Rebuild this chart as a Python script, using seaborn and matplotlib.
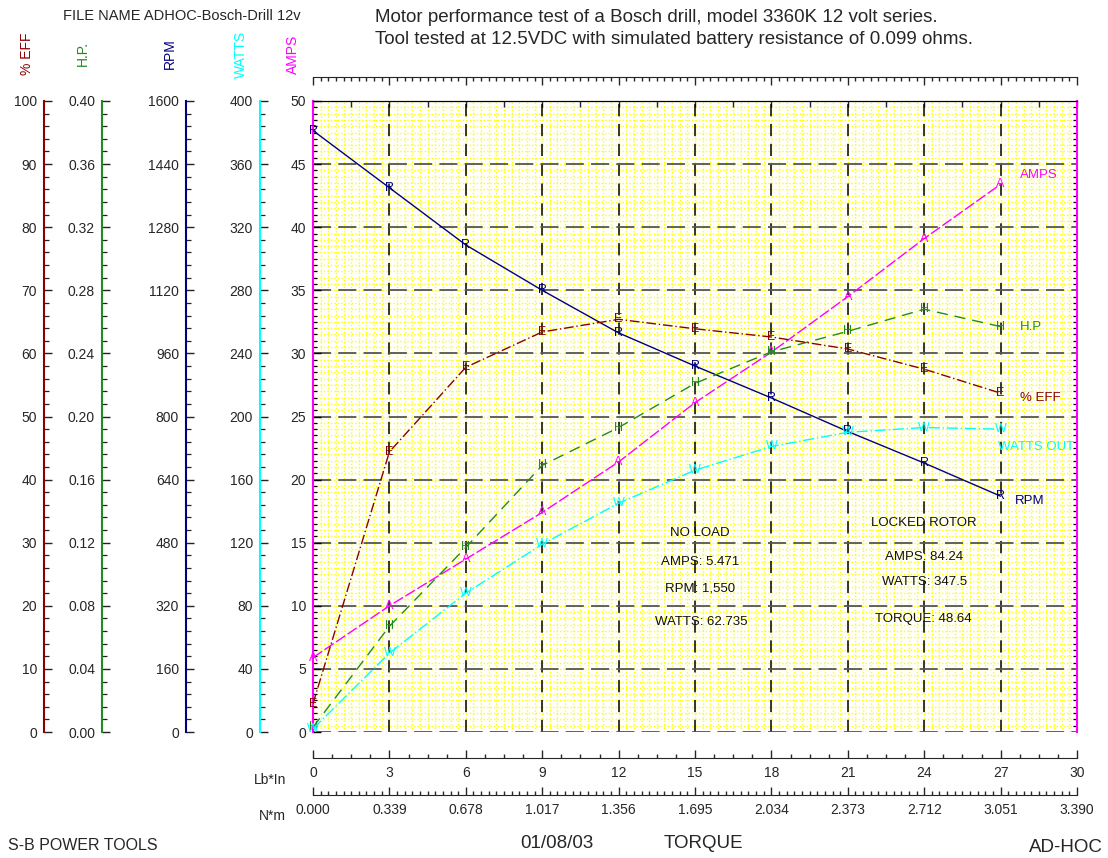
import matplotlib
matplotlib.use("Agg")
import matplotlib.pyplot as plt
import seaborn as sns
from matplotlib.ticker import MultipleLocator, FixedLocator

# torque points (Lb*In) and the readings at each
torque = [0, 3, 6, 9, 12, 15, 18, 21, 24, 27]
rpm = [1525, 1380, 1235, 1120, 1012, 928, 847, 762, 682, 598]
amps = [5.9, 10.0, 13.7, 17.4, 21.4, 26.1, 30.1, 34.5, 39.1, 43.4]
hp = [0.003, 0.067, 0.117, 0.169, 0.193, 0.221, 0.241, 0.254, 0.268, 0.257]
eff = [4.5, 44.4, 57.8, 63.4, 65.4, 63.9, 62.6, 60.7, 57.5, 53.7]
watts = [2, 50, 88, 119, 145, 166, 181, 190, 193, 192]

# scale tick labels
eff_ticks = [0, 10, 20, 30, 40, 50, 60, 70, 80, 90, 100]
hp_ticks = ["0.00", "0.04", "0.08", "0.12", "0.16", "0.20", "0.24", "0.28", "0.32", "0.36", "0.40"]
rpm_ticks = [0, 160, 320, 480, 640, 800, 960, 1120, 1280, 1440, 1600]
watt_ticks = [0, 40, 80, 120, 160, 200, 240, 280, 320, 360, 400]
amp_ticks = [0, 5, 10, 15, 20, 25, 30, 35, 40, 45, 50]
lbin_ticks = [0, 3, 6, 9, 12, 15, 18, 21, 24, 27, 30]
nm_ticks = ["0.000", "0.339", "0.678", "1.017", "1.356", "1.695", "2.034", "2.373", "2.712", "3.051", "3.390"]

C_EFF = "#8B0000"
C_HP = "#228B22"
C_RPM = "#000080"
C_W = "#00FFFF"
C_A = "#FF00FF"

sns.set_style("white")
plt.rcParams["font.family"] = ["Liberation Sans", "DejaVu Sans"]

W, H = 1108, 858
fig = plt.figure(figsize=(W / 100, H / 100), dpi=100)
L, B, PW, PH = 313 / W, 126 / H, 764 / W, 631 / H

# yellow dotted fine grid underneath
bg = fig.add_axes([L, B, PW, PH], zorder=0)
bg.set_xlim(0, 30)
bg.set_ylim(0, 50)
bg.xaxis.set_major_locator(MultipleLocator(0.3))
bg.yaxis.set_major_locator(MultipleLocator(0.5))
bg.grid(True, color="#FFFF00", linestyle=(0, (1, 1.5)), linewidth=1.0)
bg.tick_params(length=0, labelleft=False, labelbottom=False)
for s in bg.spines.values():
    s.set_visible(False)

# main axes (AMPS scale)
ax = fig.add_axes([L, B, PW, PH], zorder=1)
ax.patch.set_visible(False)
ax.set_xlim(0, 30)
ax.set_ylim(0, 50)
ax.xaxis.set_major_locator(MultipleLocator(3))
ax.yaxis.set_major_locator(FixedLocator(amp_ticks))
ax.yaxis.set_minor_locator(MultipleLocator(0.5))
ax.grid(True, axis="x", color="black", linestyle=(0, (8, 5)), linewidth=1.1)
ax.grid(True, axis="y", color="#555555", linestyle=(0, (10, 4)), linewidth=1.3)
ax.tick_params(axis="x", length=0, labelbottom=False)
ax.tick_params(axis="y", which="major", direction="in", length=6, width=1,
               left=True, right=False, labelsize=10, pad=5, color="black")
ax.tick_params(axis="y", which="minor", direction="in", length=3, width=0.9,
               left=True, right=True, color="black")
ax.spines["bottom"].set_visible(False)
ax.spines["top"].set_color("black")
ax.spines["left"].set_color(C_A)
ax.spines["right"].set_color(C_A)
ax.spines["left"].set_linewidth(1.5)
ax.spines["right"].set_linewidth(1.5)
top = ax.secondary_xaxis("top")
top.xaxis.set_major_locator(MultipleLocator(1.5))
top.tick_params(direction="in", length=4, width=1, top=True, labeltop=False)
top.spines["top"].set_color("black")

sns.lineplot(x=torque, y=amps, ax=ax, color=C_A, linewidth=1,
             linestyle=(0, (8, 2)), legend=False)
for xi, yi in zip(torque, amps):
    ax.text(xi, yi, "A", color=C_A, fontsize=9, ha="center", va="center")


def overlay(vals, top_val, color, ls, letter):
    o = fig.add_axes([L, B, PW, PH], zorder=2)
    o.set_xlim(0, 30)
    o.set_ylim(0, top_val)
    o.axis("off")
    sns.lineplot(x=torque, y=vals, ax=o, color=color, linewidth=1,
                 linestyle=ls, legend=False)
    for xi, yi in zip(torque, vals):
        o.text(xi, yi, letter, color=color, fontsize=9, ha="center", va="center")
    return o


overlay(rpm, 1600, C_RPM, "-", "R")
overlay(hp, 0.40, C_HP, (0, (8, 5)), "H")
overlay(eff, 100, C_EFF, (0, (7, 2, 1, 2)), "E")
overlay(watts, 400, C_W, (0, (8, 2, 1, 2)), "W")

# curve names on the right
ax.text(27.75, 44.1, "AMPS", color=C_A, fontsize=9.5, va="center")
ax.text(27.75, 32.1, "H.P", color=C_HP, fontsize=9.5, va="center")
ax.text(27.75, 26.5, "% EFF", color=C_EFF, fontsize=9.5, va="center")
ax.text(26.9, 22.6, "WATTS OUT", color=C_W, fontsize=9.5, va="center")
ax.text(27.55, 18.3, "RPM", color=C_RPM, fontsize=9.5, va="center")

# test summary
for x0, y0, s in [(15.2, 15.8, "NO LOAD"), (15.2, 13.5, "AMPS: 5.471"),
                  (15.2, 11.4, "RPM: 1,550"), (15.25, 8.7, "WATTS: 62.735"),
                  (24.0, 16.6, "LOCKED ROTOR"), (24.0, 13.9, "AMPS: 84.24"),
                  (24.0, 11.9, "WATTS: 347.5"), (23.95, 8.95, "TORQUE: 48.64")]:
    ax.text(x0, y0, s, fontsize=9.5, ha="center", va="center", color="#111111")


# separate vertical scales on the left
def scale_axis(xpix, color, top_val, ticks, labels, minor):
    a = fig.add_axes([xpix / W, B, 0.0004, PH])
    a.set_ylim(0, top_val)
    a.patch.set_visible(False)
    for s in ["top", "right", "bottom"]:
        a.spines[s].set_visible(False)
    a.spines["left"].set_color(color)
    a.spines["left"].set_linewidth(1.5)
    a.set_xticks([])
    a.yaxis.set_major_locator(FixedLocator(ticks))
    a.set_yticklabels(labels)
    a.yaxis.set_minor_locator(MultipleLocator(minor))
    a.tick_params(axis="y", which="major", direction="in", length=6, width=1,
                  left=True, color="#222222", labelsize=10, pad=5)
    a.tick_params(axis="y", which="minor", direction="in", length=3.5, width=0.9,
                  left=True, color="#222222")
    return a


scale_axis(44, C_EFF, 100, eff_ticks, [str(v) for v in eff_ticks], 2)
scale_axis(102, C_HP, 0.40, [i * 0.04 for i in range(11)], hp_ticks, 0.008)
scale_axis(186, C_RPM, 1600, rpm_ticks, [str(v) for v in rpm_ticks], 32)
scale_axis(260, C_W, 400, watt_ticks, [str(v) for v in watt_ticks], 8)

for xp, s, c in [(27, "% EFF", C_EFF), (83, "H.P.", C_HP), (170, "RPM", C_RPM),
                 (241, "WATTS", C_W), (293, "AMPS", C_A)]:
    fig.text(xp / W, 1 - 54 / H, s, color=c, rotation=90, fontsize=10,
             ha="center", va="center")

# ruler above the plot
ruler = fig.add_axes([L, 1 - 77 / H - 0.004, PW, 0.004])
ruler.set_xlim(0, 30)
ruler.patch.set_visible(False)
for s in ["left", "right", "bottom"]:
    ruler.spines[s].set_visible(False)
ruler.set_yticks([])
ruler.xaxis.set_major_locator(MultipleLocator(3))
ruler.xaxis.set_minor_locator(MultipleLocator(0.3))
ruler.tick_params(axis="x", which="both", direction="in", top=True, bottom=False,
                  labelbottom=False, labeltop=False, width=1)
ruler.tick_params(axis="x", which="major", length=6)
ruler.tick_params(axis="x", which="minor", length=3)

# torque axes below
lb = fig.add_axes([L, 1 - 758 / H, PW, 0.004])
lb.set_xlim(0, 30)
lb.patch.set_visible(False)
for s in ["left", "right", "top"]:
    lb.spines[s].set_visible(False)
lb.set_yticks([])
lb.xaxis.set_major_locator(FixedLocator(lbin_ticks))
lb.xaxis.set_minor_locator(MultipleLocator(0.75))
lb.tick_params(axis="x", which="major", direction="in", length=6, width=1,
               bottom=True, labelsize=10, pad=6)
lb.tick_params(axis="x", which="minor", direction="in", length=3, width=1,
               bottom=True)

nm = fig.add_axes([L, 1 - 795 / H, PW, 0.004])
nm.set_xlim(0, 30)
nm.patch.set_visible(False)
for s in ["left", "right", "top"]:
    nm.spines[s].set_visible(False)
nm.set_yticks([])
nm.xaxis.set_major_locator(FixedLocator(lbin_ticks))
nm.set_xticklabels(nm_ticks)
nm.xaxis.set_minor_locator(MultipleLocator(0.3))
nm.tick_params(axis="x", which="major", direction="in", length=6, width=1,
               bottom=True, labelsize=10, pad=6)
nm.tick_params(axis="x", which="minor", direction="in", length=3, width=1,
               bottom=True)

fig.text(270 / W, 1 - 780 / H, "Lb*In", fontsize=10, ha="center", va="center")
fig.text(272 / W, 1 - 816 / H, "N*m", fontsize=10, ha="center", va="center")

# header and footer
fig.text(63 / W, 1 - 16 / H, "FILE NAME ADHOC-Bosch-Drill 12v", fontsize=10.5, va="center")
fig.text(375 / W, 1 - 18 / H,
         "Motor performance test of a Bosch drill, model 3360K 12 volt series.",
         fontsize=13.5, va="center")
fig.text(375 / W, 1 - 40 / H,
         "Tool tested at 12.5VDC with simulated battery resistance of 0.099 ohms.",
         fontsize=13.5, va="center")
fig.text(8 / W, 1 - 845 / H, "S-B POWER TOOLS", fontsize=11.5, va="center")
fig.text(557 / W, 1 - 843 / H, "01/08/03", fontsize=13.5, ha="center", va="center")
fig.text(703 / W, 1 - 843 / H, "TORQUE", fontsize=13.5, ha="center", va="center")
fig.text(1103 / W, 1 - 848 / H, "AD-HOC", fontsize=13.5, ha="right", va="center")

fig.savefig("out.png", dpi=100)
